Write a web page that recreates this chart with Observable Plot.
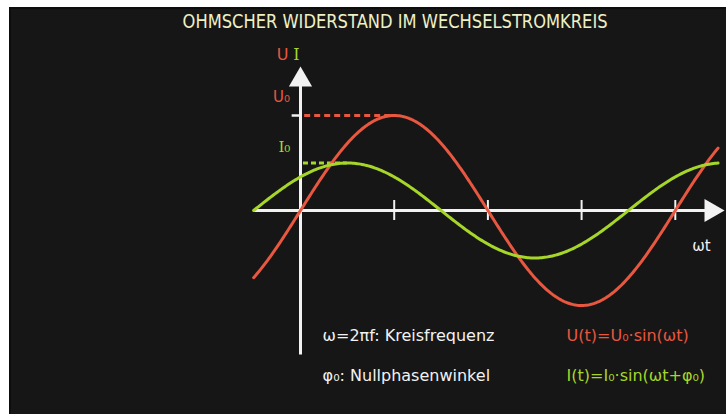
<!DOCTYPE html>
<html><head><meta charset="utf-8">
<script src="https://cdn.jsdelivr.net/npm/d3@7"></script>
<script src="https://cdn.jsdelivr.net/npm/@observablehq/plot@0.6"></script>
<style>
html,body{margin:0;padding:0;background:#fff;}
#wrap{position:relative;width:726px;height:414px;background:#fff;overflow:hidden;}
#board{position:absolute;left:9px;top:7px;right:0;bottom:0;background:#161616;border-left:2px solid #0d0d0d;border-top:2px solid #0d0d0d;}
#chart{position:absolute;left:0;top:0;}
</style></head><body>
<div id="wrap"><div id="board"></div><div id="chart"></div></div>
<script>
// ---- chart content ----
const titleText = ["OHMSCHER WIDERSTAND IM WECHSELSTROMKREIS"];
const U0 = 1.0;              // voltage amplitude
const I0 = 0.5;              // current amplitude (read relative to U0)
const phi0 = Math.PI / 4;    // Nullphasenwinkel
const tRange = [-Math.PI / 4, 7.0];  // drawn ωt interval
const xTicks = [Math.PI / 2, Math.PI, 3 * Math.PI / 2, 2 * Math.PI];
const axisLabels = ["U", "I", "U\u2080", "I\u2080", "\u03c9t"];
const legendLeft = ["\u03c9=2\u03c0f: Kreisfrequenz", "\u03c6\u2080: Nullphasenwinkel"];
const legendRight = ["U(t)=U\u2080\u00b7sin(\u03c9t)", "I(t)=I\u2080\u00b7sin(\u03c9t+\u03c6\u2080)"];

// ---- build curve samples ----
const N = 300;
const ts = d3.range(N + 1).map(i => tRange[0] + (tRange[1] - tRange[0]) * i / N);
const uData = ts.map(t => ({t, v: U0 * Math.sin(t)}));
const iData = ts.map(t => ({t, v: I0 * Math.sin(t + phi0)}));

const RED = "#e8573f", GREEN = "#a6d62a", WHITE = "#f2f2f2", CHALK = "#eef0c6";
const FONT = "DejaVu Sans, Verdana, sans-serif";

const plot = Plot.plot({
  width: 726, height: 414, margin: 0,
  x: {type: "linear", domain: [0, 2 * Math.PI], range: [300, 674.8], axis: null},
  y: {type: "linear", domain: [-1, 1], range: [305, 115], axis: null},
  style: {background: "transparent", overflow: "visible"},
  marks: [
    // axes
    Plot.ruleY([0], {x1: tRange[0], x2: 6.86, stroke: WHITE, strokeWidth: 3}),
    Plot.ruleX([0], {y1: -1.52, y2: 1.34, stroke: WHITE, strokeWidth: 3}),
    Plot.dot([0], {x: 0, y: 1.376, symbol: "triangle", r: 8.6, fill: WHITE, stroke: null}),
    Plot.dot([0], {x: 6.885, y: 0, symbol: "triangle", r: 8.6, rotate: 90, fill: WHITE, stroke: null}),
    Plot.ruleX(xTicks, {y1: -0.105, y2: 0.105, stroke: WHITE, strokeWidth: 2}),
    Plot.ruleY([U0], {x1: -0.14, x2: 0, stroke: WHITE, strokeWidth: 2.5}),
    // dashed amplitude guides
    Plot.ruleY([U0], {x1: 0.07, x2: Math.PI / 2, stroke: RED, strokeWidth: 3, strokeDasharray: "6,4"}),
    Plot.ruleY([I0], {x1: 0.05, x2: Math.PI / 2 - phi0, stroke: GREEN, strokeWidth: 3, strokeDasharray: "5,3"}),
    // curves
    Plot.line(uData, {x: "t", y: "v", stroke: RED, strokeWidth: 3}),
    Plot.line(iData, {x: "t", y: "v", stroke: GREEN, strokeWidth: 3}),
    // axis labels
    Plot.text([axisLabels[0]], {x: -0.30, y: 1.64, text: d => d, fill: RED, fontSize: 16, fontFamily: FONT}),
    Plot.text([axisLabels[1]], {x: -0.07, y: 1.64, text: d => d, fill: GREEN, fontSize: 16, fontFamily: "DejaVu Serif, serif"}),
    Plot.text([axisLabels[2]], {x: -0.32, y: 1.19, text: d => d, fill: RED, fontSize: 15, fontFamily: FONT}),
    Plot.text([axisLabels[3]], {x: -0.27, y: 0.665, text: d => d, fill: GREEN, fontSize: 15, fontFamily: "DejaVu Serif, serif"}),
    Plot.text([axisLabels[4]], {x: 6.72, y: -0.38, text: d => d, fill: WHITE, fontSize: 15, fontFamily: FONT}),
    // legend text
    Plot.text(legendLeft, {x: 0.37, y: (d, i) => i === 0 ? -1.316 : -1.737, text: d => d, fill: WHITE, fontSize: 16, fontFamily: FONT, textAnchor: "start"}),
    Plot.text(legendRight, {x: 4.46, y: (d, i) => i === 0 ? -1.316 : -1.737, text: d => d, fill: (d, i) => i === 0 ? RED : GREEN, fontSize: 16, fontFamily: FONT, textAnchor: "start"}),
    // title
    Plot.text(titleText, {x: 1.585, y: 1.99, text: d => d, fill: CHALK, fontSize: 19, fontFamily: FONT, className: "chalk-title"})
  ]
});
document.getElementById("chart").appendChild(plot);
d3.select(plot).selectAll(".chalk-title text")
  .attr("textLength", 425).attr("lengthAdjust", "spacingAndGlyphs");
</script>
</body></html>
